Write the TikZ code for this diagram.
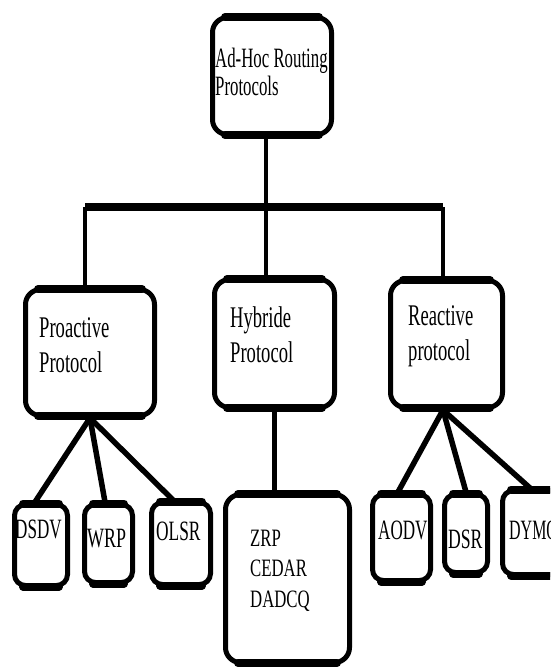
\documentclass[tikz,border=0pt]{standalone}
\usepackage{graphicx}
\usepackage{fontspec}
\setmainfont{Liberation Serif}
\usepackage{tikz}
\usetikzlibrary{positioning}
\newcommand{\narrow}[2]{\scalebox{#1}[1]{\begin{tabular}[t]{@{}l@{}}#2\end{tabular}}}

\begin{document}
\begin{tikzpicture}[x=1pt, y=-1pt,
  bigbox/.style={draw, line width=5pt, rounded corners=15pt, inner sep=0pt},
  leafbox/.style={draw, line width=5pt, rounded corners=11pt, inner sep=0pt},
  boxlabel/.style={anchor=base west, inner sep=0pt},
  midfont/.style={font=\fontsize{30}{35}\selectfont},
  leaffont/.style={font=\fontsize{28}{35}\selectfont},
  edgebar/.style={line width=8pt, line cap=round},
  link/.style={line width=4.5pt},
  fan/.style={line width=5.5pt}]
\useasboundingbox (0,0) rectangle (550,667);
\clip (0,0) rectangle (550,667);
% top level
\node[bigbox, minimum width=119pt, minimum height=117pt] (root) at (272,76) {};
\node[boxlabel, font=\fontsize{28}{28}\selectfont] (rootlabel) at (215,67) {\narrow{0.6}{Ad-Hoc Routing\\Protocols}};
% middle level
\node[bigbox, minimum width=129pt, minimum height=126pt] (pro) at (90,352.5) {};
\node[bigbox, minimum width=120pt, minimum height=128pt] (hyb) at (274.5,343.5) {};
\node[bigbox, minimum width=112pt, minimum height=127pt] (rea) at (446.5,344) {};
\node[boxlabel, midfont] (prolabel) at (39,337) {\narrow{0.62}{Proactive\\Protocol}};
\node[boxlabel, midfont] (hyblabel) at (230,327) {\narrow{0.62}{Hybride\\Protocol}};
\node[boxlabel, midfont] (realabel) at (408,325) {\narrow{0.62}{Reactive\\protocol}};
% leaves
\node[leafbox, minimum width=53pt, minimum height=81pt] (dsdv) at (41,545) {};
\node[leafbox, minimum width=48pt, minimum height=78pt] (wrp) at (108.5,543.5) {};
\node[leafbox, minimum width=59pt, minimum height=82pt] (olsr) at (181,543.5) {};
\node[bigbox, minimum width=124pt, minimum height=168pt] (zrp) at (287.5,578.5) {};
\node[leafbox, minimum width=58pt, minimum height=86pt] (aodv) at (401.5,537.5) {};
\node[leafbox, minimum width=43pt, minimum height=78pt] (dsr) at (466,533.5) {};
\node[leafbox, minimum width=75pt, minimum height=84pt] (dymo) at (540,532.5) {};
\node[boxlabel, leaffont] (dsdvlabel) at (15,538) {\narrow{0.61}{DSDV}};
\node[boxlabel, leaffont] (wrplabel) at (87,547) {\narrow{0.64}{WRP}};
\node[boxlabel, leaffont] (olsrlabel) at (156,540) {\narrow{0.62}{OLSR}};
\node[boxlabel, font=\fontsize{25}{30.5}\selectfont] (zrplabel) at (250,546) {\narrow{0.67}{ZRP\\CEDAR\\DADCQ}};
\node[boxlabel, leaffont] (aodvlabel) at (378,539) {\narrow{0.61}{AODV}};
\node[boxlabel, leaffont] (dsrlabel) at (448,548) {\narrow{0.63}{DSR}};
\node[boxlabel, leaffont] (dymolabel) at (509,539) {\narrow{0.57}{DYMO}};
% thicker top and bottom edges
\foreach \b in {root,pro,hyb,rea,zrp} {
  \draw[edgebar] ([xshift=15pt,yshift=-2pt]\b.north west) -- ([xshift=-15pt,yshift=-2pt]\b.north east);
  \draw[edgebar] ([xshift=15pt,yshift=2pt]\b.south west) -- ([xshift=-15pt,yshift=2pt]\b.south east);
}
\foreach \b in {dsdv,wrp,olsr,aodv,dsr,dymo} {
  \draw[edgebar] ([xshift=11pt,yshift=-1.5pt]\b.north west) -- ([xshift=-11pt,yshift=-1.5pt]\b.north east);
  \draw[edgebar] ([xshift=11pt,yshift=1.5pt]\b.south west) -- ([xshift=-11pt,yshift=1.5pt]\b.south east);
}
% bus
\coordinate (busL) at (85,207);
\coordinate (busM) at (266,207);
\coordinate (busR) at (443,207);
\draw[line width=8pt] (busL) -- (busR);
\draw[link] (busM |- root.south) -- (busM);
\draw[link] (busL) -- (busL |- pro.north);
\draw[link] (busM) -- (busM |- hyb.north);
\draw[link] (busR) -- (busR |- rea.north);
% fans
\draw[fan] (pro.south) -- ([xshift=-6pt]dsdv.north);
\draw[fan] (pro.south) -- ([xshift=-3.5pt]wrp.north);
\draw[fan] (pro.south) -- ([xshift=-8pt]olsr.north);
\draw[link] (hyb.south) -- (hyb.south |- zrp.north);
\draw[fan] (busR |- rea.south) -- ([xshift=-3.5pt]aodv.north);
\draw[fan] (busR |- rea.south) -- (dsr.north);
\draw[fan] (busR |- rea.south) -- ([xshift=30pt]dymo.north west);
\end{tikzpicture}
\end{document}
